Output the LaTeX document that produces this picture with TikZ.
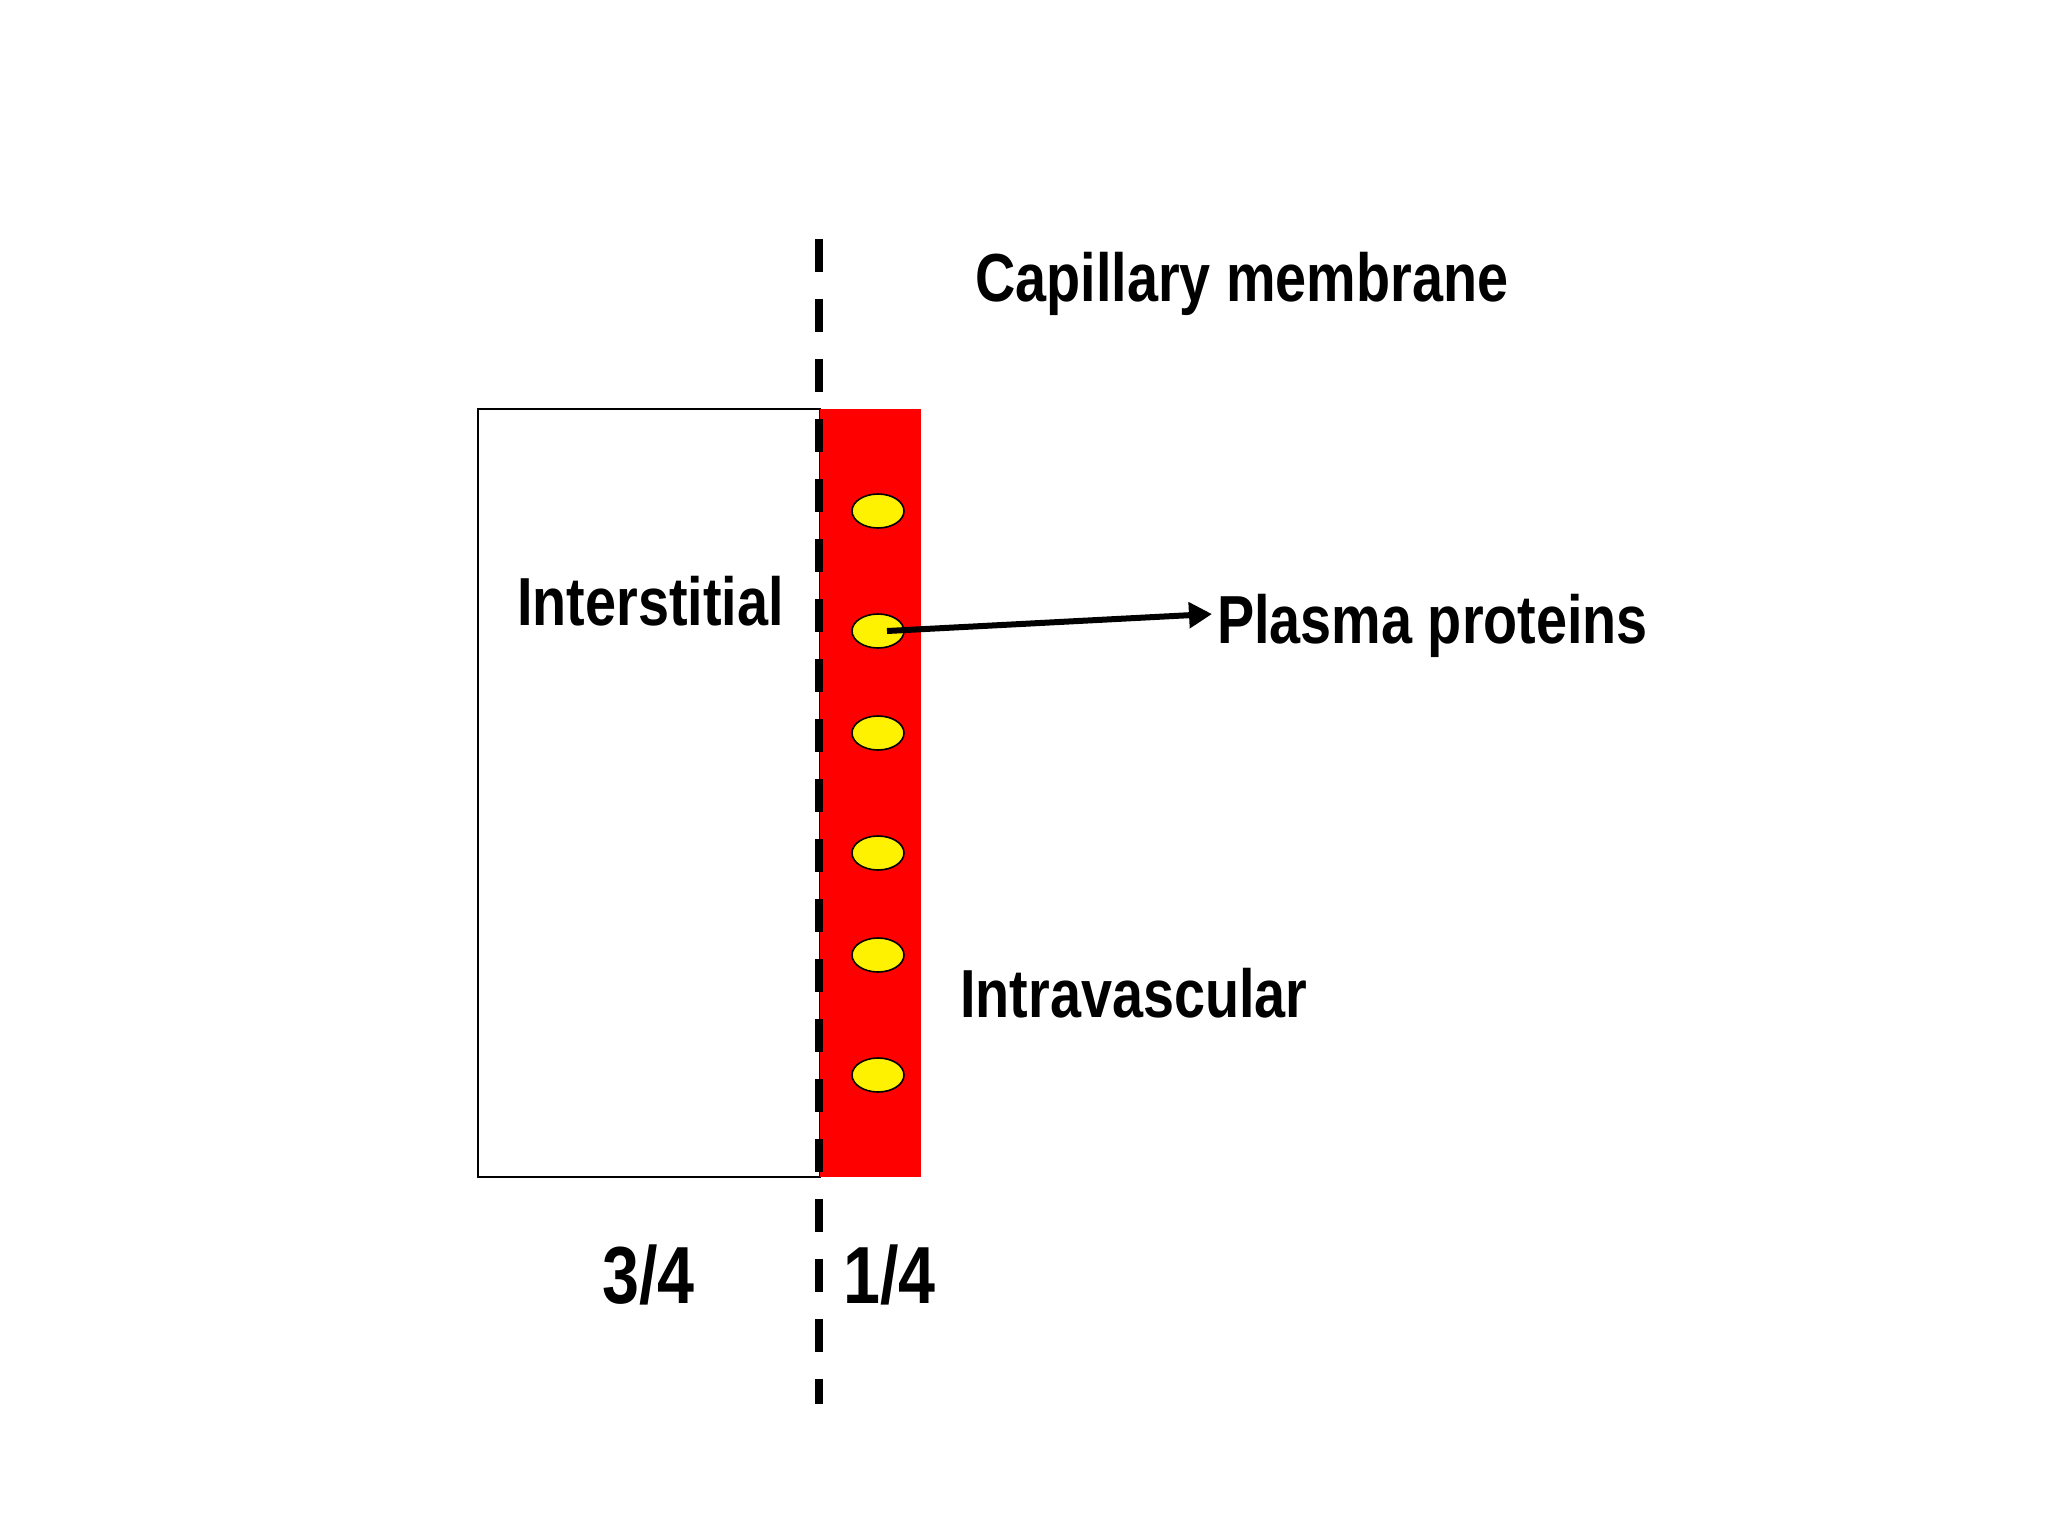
\documentclass[tikz,border=0pt]{standalone}
\usepackage{fontspec}
\setmainfont{Liberation Sans}[FakeStretch=0.82]
\usetikzlibrary{arrows.meta,shapes.geometric}
\tikzset{
  lbl/.style={inner sep=0pt, anchor=base west, font=\fontsize{68}{80}\selectfont\bfseries},
  frac/.style={inner sep=0pt, anchor=base west, font=\fontsize{81}{95}\selectfont\bfseries},
  prot/.style={ellipse, draw=black, line width=1.6pt, fill=yellow, minimum width=52pt, minimum height=34pt, inner sep=0pt},
  membrane/.style={line width=8pt, dash pattern=on 33pt off 27pt},
}
\begin{document}
\begin{tikzpicture}[x=1pt,y=-1pt]
\useasboundingbox (0,0) rectangle (2048,1536);
\fill[white] (0,0) rectangle (2048,1536);
% compartments
\draw[line width=1.6pt, fill=white] (478,409) rectangle (820,1177);
\fill[red] (820,409) rectangle (921,1177);
% membrane
\coordinate (mtop) at (819,239);
\coordinate (mbot) at (819,1404);
\draw[membrane] (mtop) -- (mbot);
% proteins
\node[prot] (p1) at (878,511) {};
\node[prot] (p2) at (878,631) {};
\node[prot] (p3) at (878,733) {};
\node[prot] (p4) at (878,853) {};
\node[prot] (p5) at (878,955) {};
\node[prot] (p6) at (878,1075) {};
% labels
\node[lbl] (cap) at (975,301) {Capillary membrane};
\node[lbl] (inter) at (517,625) {Interstitial};
\node[lbl] (plasma) at (1217,643) {Plasma proteins};
\node[lbl] (intra) at (960,1017) {Intravascular};
\node[frac] (f34) at (602,1303) {3/4};
\node[frac] (f14) at (843,1303) {1/4};
% arrow
\coordinate (tip) at (1212,614);
\draw[line width=6pt, -{Triangle[length=23pt,width=25pt]}] ([xshift=9pt]p2.center) -- (tip);
\end{tikzpicture}
\end{document}
